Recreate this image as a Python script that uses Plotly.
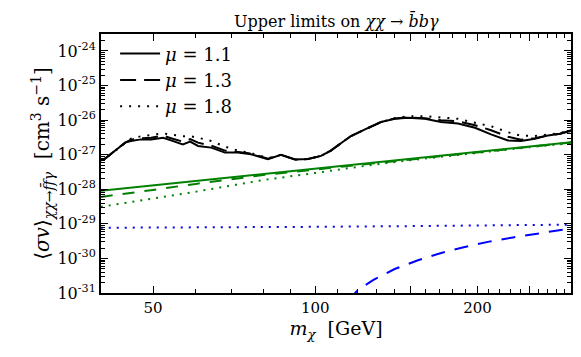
import plotly.graph_objects as go

# dark matter mass grid (GeV) for the upper-limit curves
mass = [40, 40.7, 42.1, 44.4, 45.5, 47.5, 49.6, 52.2, 54, 56.8, 58.6, 60.6, 64.1, 68, 71.9,
        76, 81.7, 86.4, 91.7, 97, 102.5, 106.9, 111.6, 116.5, 123.7, 132.4, 140.6, 148.6,
        159.8, 171.1, 184, 197.9, 211.9, 227.8, 240.8, 255.6, 270.3, 284.5, 298]

limit_mu11 = [6.9e-28, 7.6e-28, 1.15e-27, 2.23e-27, 2.49e-27, 2.77e-27, 2.77e-27, 3.10e-27,
              2.59e-27, 1.99e-27, 2.38e-27, 1.79e-27, 1.60e-27, 1.15e-27, 1.15e-27, 1.03e-27,
              7.38e-28, 9.87e-28, 7.23e-28, 7.48e-28, 9.24e-28, 1.31e-27, 2.15e-27, 3.47e-27,
              5.37e-27, 8.77e-27, 1.09e-26, 1.16e-26, 1.09e-26, 8.77e-27, 7.98e-27, 6.01e-27,
              3.86e-27, 2.59e-27, 2.49e-27, 2.90e-27, 3.61e-27, 4.04e-27, 4.8e-27]
limit_mu13 = [6.9e-28, 7.6e-28, 1.15e-27, 2.23e-27, 2.72e-27, 3.00e-27, 3.10e-27, 3.54e-27,
              3.00e-27, 2.38e-27, 2.81e-27, 2.23e-27, 1.83e-27, 1.31e-27, 1.19e-27, 1.08e-27,
              7.6e-28, 9.87e-28, 7.23e-28, 7.48e-28, 9.24e-28, 1.31e-27, 2.15e-27, 3.47e-27,
              5.37e-27, 8.77e-27, 1.12e-26, 1.20e-26, 1.13e-26, 9.87e-27, 9.24e-27, 7.10e-27,
              5.09e-27, 3.31e-27, 2.72e-27, 3.00e-27, 3.61e-27, 4.04e-27, 5.09e-27]
limit_mu18 = [6.9e-28, 7.6e-28, 1.15e-27, 2.23e-27, 2.90e-27, 3.42e-27, 3.66e-27, 4.12e-27,
              3.78e-27, 3.42e-27, 3.42e-27, 3.10e-27, 2.49e-27, 1.71e-27, 1.31e-27, 1.11e-27,
              7.98e-28, 9.87e-28, 7.23e-28, 7.48e-28, 9.24e-28, 1.31e-27, 2.15e-27, 3.47e-27,
              5.37e-27, 8.77e-27, 1.15e-26, 1.29e-26, 1.30e-26, 1.20e-26, 1.09e-26, 8.36e-27,
              6.64e-27, 4.46e-27, 3.54e-27, 3.47e-27, 3.78e-27, 4.18e-27, 5.26e-27]

# model predictions (green)
mass_pred = [40, 45, 50, 60, 70, 80, 100, 120, 150, 200, 250, 300]
green_mu11 = [9.08e-29, 1.10e-28, 1.30e-28, 1.74e-28, 2.23e-28, 2.76e-28, 3.94e-28, 5.28e-28,
              7.56e-28, 1.20e-27, 1.71e-27, 2.30e-27]
green_mu13 = [5.99e-29, 7.83e-29, 9.58e-29, 1.43e-28, 1.99e-28, 2.57e-28, 3.72e-28, 5.01e-28,
              7.26e-28, 1.17e-27, 1.68e-27, 2.27e-27]
green_mu18 = [3.09e-29, 4.21e-29, 5.42e-29, 8.51e-29, 1.28e-28, 1.84e-28, 2.97e-28, 4.45e-28,
              6.93e-28, 1.15e-27, 1.65e-27, 2.18e-27]

# blue predictions
mass_blue_dot = [40, 70, 100, 150, 200, 300]
blue_mu18 = [7.7e-30, 7.8e-30, 8.2e-30, 8.6e-30, 9.0e-30, 9.5e-30]
mass_blue_dash = [115, 120, 128, 140.4, 155.1, 171.3, 189.4, 210.1, 232.8, 256.8, 284.5, 300]
blue_mu13 = [6e-32, 1.22e-31, 2.36e-31, 4.93e-31, 8.87e-31, 1.44e-30, 2.14e-30, 3.06e-30,
             4.04e-30, 5.16e-30, 6.73e-30, 7.5e-30]

FONT = "DejaVu Serif"
GREEN = "#008000"
BLUE = "#0000ff"

fig = go.Figure()

for name, ys, dash in [("<i>μ</i> = 1.1", limit_mu11, "solid"),
                       ("<i>μ</i> = 1.3", limit_mu13, "16px,8px"),
                       ("<i>μ</i> = 1.8", limit_mu18, "2px,7px")]:
    fig.add_trace(go.Scatter(x=mass, y=ys, mode="lines", name=name,
                             line=dict(color="black", width=2, dash=dash)))

for ys, dash in [(green_mu11, "solid"), (green_mu13, "12px,10px"), (green_mu18, "2px,6px")]:
    fig.add_trace(go.Scatter(x=mass_pred, y=ys, mode="lines", showlegend=False,
                             line=dict(color=GREEN, width=2, dash=dash)))

fig.add_trace(go.Scatter(x=mass_blue_dot, y=blue_mu18, mode="lines", showlegend=False,
                         line=dict(color=BLUE, width=2, dash="2px,6px")))
fig.add_trace(go.Scatter(x=mass_blue_dash, y=blue_mu13, mode="lines", showlegend=False,
                         line=dict(color=BLUE, width=2, dash="14px,10px")))

y_major = [10.0 ** e for e in range(-31, -23)]
y_minor = [m * 10.0 ** e for e in range(-31, -23) for m in range(2, 10)]
x_minor = [40, 60, 70, 80, 90, 110, 120, 130, 140, 160, 170, 180, 190, 210, 220, 230, 240,
           260, 270, 280, 290]

fig.update_layout(
    width=581, height=357,
    margin=dict(l=93, r=18, t=26, b=72),
    paper_bgcolor="white", plot_bgcolor="white",
    font=dict(family=FONT, color="black", size=14),
    title=dict(text="Upper limits on <i>χχ</i> → <i>b̄bγ</i>", x=0.565, xanchor="center",
               y=0.962, yanchor="middle", font=dict(size=16)),
    legend=dict(x=0.03, y=0.995, xanchor="left", yanchor="top", bgcolor="rgba(0,0,0,0)",
                font=dict(size=18), tracegroupgap=0, itemwidth=40),
    xaxis=dict(
        type="log", range=[1.6025, 2.4745],
        tickmode="array", tickvals=[50, 100, 150, 200, 250], ticktext=["50", "100", "", "200", ""],
        ticks="inside", ticklen=7, tickwidth=1.2, tickcolor="black",
        minor=dict(tickmode="array", tickvals=x_minor, ticks="inside", ticklen=4,
                   tickcolor="black", showgrid=False),
        showline=True, linecolor="black", linewidth=2, mirror="allticks",
        showgrid=False, zeroline=False, tickfont=dict(size=15),
        title=dict(text="<i>m<sub>χ</sub></i>  [GeV]", font=dict(size=19), standoff=4),
    ),
    yaxis=dict(
        type="log", range=[-31, -23.51],
        tickmode="array", tickvals=y_major,
        ticktext=["10<sup>-%d</sup>" % e for e in range(31, 23, -1)],
        ticks="inside", ticklen=7, tickwidth=1.2, tickcolor="black",
        minor=dict(tickmode="array", tickvals=y_minor, ticks="inside", ticklen=4,
                   tickcolor="black", showgrid=False),
        showline=True, linecolor="black", linewidth=2, mirror="allticks",
        showgrid=False, zeroline=False, tickfont=dict(size=16),
        title=dict(text="⟨<i>σv</i>⟩<sub><i>χχ</i>→<i>f̄fγ</i></sub>  [cm<sup>3</sup> s<sup>−1</sup>]",
                   font=dict(size=20), standoff=2),
    ),
)

fig.write_html("out.html")
